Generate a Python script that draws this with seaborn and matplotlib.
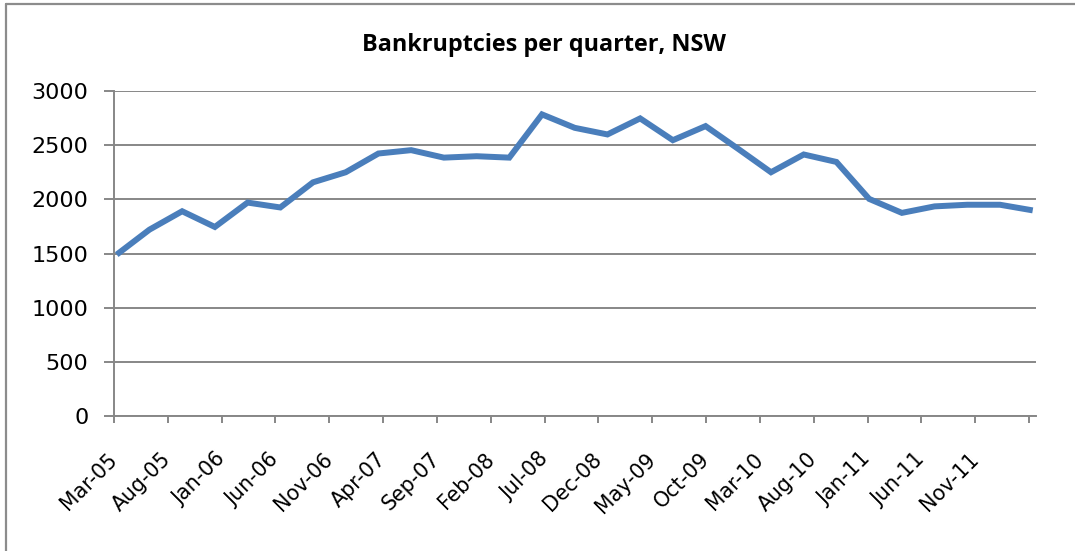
import numpy as np
import pandas as pd
import matplotlib
matplotlib.use("Agg")
import matplotlib.pyplot as plt
import matplotlib.transforms as mtransforms
from matplotlib.lines import Line2D
import seaborn as sns

# Quarterly bankruptcy counts, New South Wales
quarters = ["Mar-05", "Jun-05", "Sep-05", "Dec-05", "Mar-06", "Jun-06", "Sep-06", "Dec-06",
            "Mar-07", "Jun-07", "Sep-07", "Dec-07", "Mar-08", "Jun-08", "Sep-08", "Dec-08",
            "Mar-09", "Jun-09", "Sep-09", "Dec-09", "Mar-10", "Jun-10", "Sep-10", "Dec-10",
            "Mar-11", "Jun-11", "Sep-11", "Dec-11", "Mar-12"]
bankruptcies = [1490, 1720, 1890, 1745, 1970, 1925, 2157, 2250,
                2423, 2454, 2385, 2398, 2385, 2784, 2660, 2599,
                2747, 2546, 2676, 2465, 2250, 2414, 2345, 2004,
                1875, 1935, 1950, 1950, 1898]
date_labels = ["Mar-05", "Aug-05", "Jan-06", "Jun-06", "Nov-06", "Apr-07", "Sep-07", "Feb-08",
               "Jul-08", "Dec-08", "May-09", "Oct-09", "Mar-10", "Aug-10", "Jan-11", "Jun-11",
               "Nov-11", ""]
y_ticks = [0, 500, 1000, 1500, 2000, 2500, 3000]
title = "Bankruptcies per quarter, NSW"

df = pd.DataFrame({"pos": np.arange(len(quarters)), "quarter": quarters, "count": bankruptcies})

sns.set_theme(style="white")
plt.rcParams["font.family"] = ["DejaVu Sans"]

W, H = 1075, 551
fig = plt.figure(figsize=(W / 100, H / 100), dpi=100)
fig.patch.set_facecolor("white")
ax = fig.add_axes([114 / W, 1 - 416 / H, (1036 - 114) / W, (416 - 91) / H])

grid_c = "#878787"
line_c = "#4A7EBB"

sns.lineplot(data=df, x="pos", y="count", ax=ax, color=line_c, linewidth=4.3,
             solid_joinstyle="miter", solid_capstyle="butt")

# date axis: ticks every five months (about 1.645 quarter-slots apart)
x_lo, x_hi = -0.083, 28.1
ax.set_xlim(x_lo, x_hi)
tick_step = 1.6454
ax.set_xticks(x_lo + np.arange(len(date_labels)) * tick_step)
ax.set_xticklabels(date_labels, rotation=45, ha="right", va="center",
                   rotation_mode="anchor", fontsize=14.8, color="black")
offset = mtransforms.ScaledTranslation(13 / 100, 2 / 100, fig.dpi_scale_trans)
for lab in ax.get_xticklabels():
    lab.set_transform(lab.get_transform() + offset)

ax.set_ylim(0, 3000)
ax.set_yticks(y_ticks)
ax.set_yticklabels([str(v) for v in y_ticks], fontsize=16, color="black")
yoff = mtransforms.ScaledTranslation(0, -3 / 100, fig.dpi_scale_trans)
for lab in ax.get_yticklabels():
    lab.set_transform(lab.get_transform() + yoff)

ax.set_xlabel("")
ax.set_ylabel("")
ax.yaxis.grid(True, color=grid_c, linewidth=1.4)
ax.xaxis.grid(False)
ax.set_axisbelow(True)

for side in ["top", "right"]:
    ax.spines[side].set_visible(False)
for side in ["left", "bottom"]:
    ax.spines[side].set_color(grid_c)
    ax.spines[side].set_linewidth(1.4)

ax.tick_params(axis="y", direction="out", length=7.5, width=1.4, color=grid_c, pad=11, left=True)
ax.tick_params(axis="x", direction="out", length=5, width=1.4, color=grid_c, pad=24, bottom=True)

fig.text(544 / W, 1 - 45 / H, title, ha="center", va="center", color="black",
         fontsize=16.8, fontweight="bold", family=["Open Sans", "DejaVu Sans"])

# chart frame
frame_c = "#8c8c8c"
fig.add_artist(Line2D([6 / W, 6 / W], [1 - 4 / H, 0], transform=fig.transFigure,
                      color=frame_c, linewidth=1.6))
fig.add_artist(Line2D([6 / W, 1], [1 - 4 / H, 1 - 4 / H], transform=fig.transFigure,
                      color=frame_c, linewidth=1.6))

fig.savefig("out.png", dpi=100, facecolor="white")
